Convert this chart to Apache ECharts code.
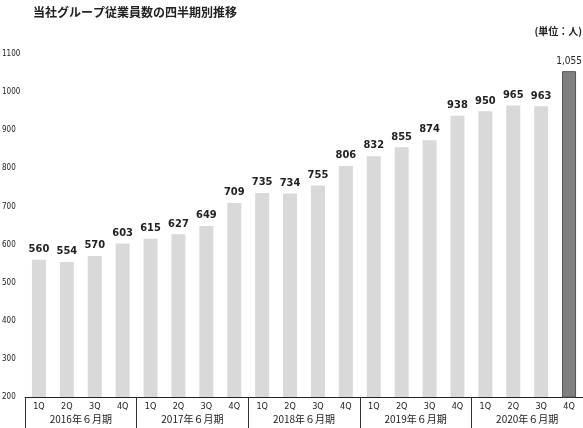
<!DOCTYPE html>
<html><head><meta charset="utf-8">
<script src="https://cdn.jsdelivr.net/npm/echarts@6/dist/echarts.min.js"></script>
<style>html,body{margin:0;padding:0;background:#fff}#c{width:583px;height:428px}</style>
</head><body><div id="c"></div>
<script>
const quarters = ['1Q','2Q','3Q','4Q','1Q','2Q','3Q','4Q','1Q','2Q','3Q','4Q','1Q','2Q','3Q','4Q','1Q','2Q','3Q','4Q'];
const years = ['2016年６月期','2017年６月期','2018年６月期','2019年６月期','2020年６月期'];
const employees = [560,554,570,603,615,627,649,709,735,734,755,806,832,855,874,938,950,965,963,1055];
const yTicks = {min:200, max:1100, interval:100};
const title = '当社グループ従業員数の四半期別推移';
const unit = '(単位：人)';

const chart = echarts.init(document.getElementById('c'));
const font = '"Liberation Sans Narrow","DejaVu Sans Condensed","Liberation Sans",Arial,sans-serif';
const cjk = '"Noto Sans CJK JP","Noto Sans",sans-serif';
chart.setOption({
  animation:false,
  title:[
    {text:title,left:28,top:1,textStyle:{fontFamily:cjk,fontSize:12,fontWeight:'bold',color:'#222'}},
    {text:unit,right:-4,top:21,textStyle:{fontFamily:cjk,fontSize:10,fontWeight:'bold',color:'#222'}}
  ],
  grid:{left:25,right:0,top:54,bottom:31,containLabel:false,outerBoundsMode:'none'},
  xAxis:[
    {type:'category',data:quarters,position:'bottom',
     axisLine:{lineStyle:{color:'#222',width:1}},axisTick:{show:false},
     axisLabel:{fontFamily:font,fontSize:9,color:'#222',margin:5,interval:0}},
    {type:'category',data:years,position:'bottom',
     axisLine:{show:false},
     axisTick:{show:true,length:31,lineStyle:{color:'#333'}},
     axisLabel:{fontFamily:cjk,fontSize:10,color:'#222',margin:17,interval:0}}
  ],
  yAxis:{type:'value',min:yTicks.min,max:yTicks.max,interval:yTicks.interval,
    axisLine:{show:false},axisTick:{show:false},splitLine:{show:false},
    axisLabel:{fontFamily:font,fontSize:8,color:'#222',margin:23,align:'left',formatter:v=>String(v)}},
  series:[{
    type:'bar',xAxisIndex:0,barWidth:14,
    data:employees.map((v,i)=> i===employees.length-1
      ? {value:v,itemStyle:{color:'#808080',borderColor:'#555',borderWidth:1},
         label:{fontWeight:'normal',fontSize:10,formatter:p=>p.value.toLocaleString('en-US')}}
      : v),
    itemStyle:{color:'#d9d9d9'},
    label:{show:true,position:'top',distance:5,fontFamily:font,fontSize:11,fontWeight:'bold',color:'#222'}
  }]
});
</script></body></html>
